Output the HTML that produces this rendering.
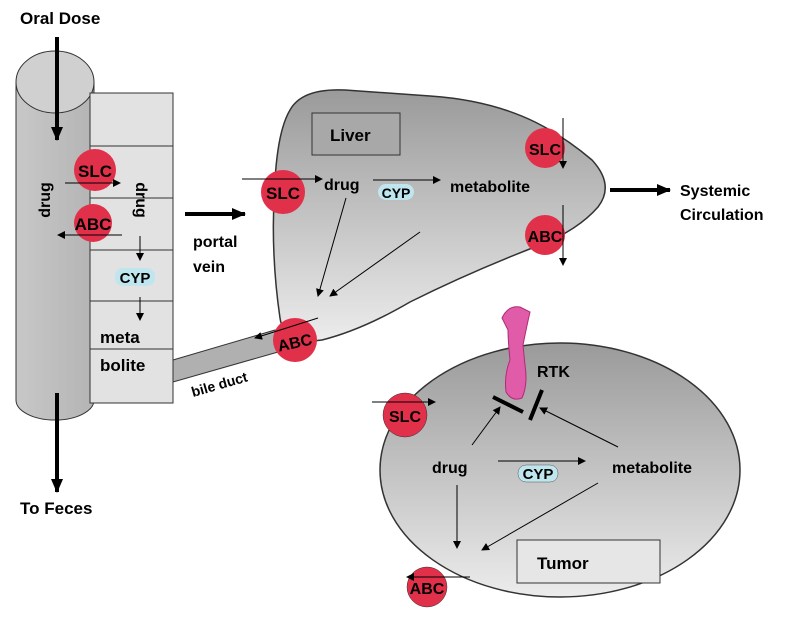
<!DOCTYPE html>
<html><head><style>body{margin:0;background:#fff}svg{display:block}text{font-family:"Liberation Sans",sans-serif;font-weight:bold}</style></head><body>
<svg width="800" height="629" viewBox="0 0 800 629" xmlns="http://www.w3.org/2000/svg">
<defs>
<linearGradient id="g" x1="0" y1="0" x2="0" y2="1"><stop offset="0" stop-color="#9a9a9a"/><stop offset="1" stop-color="#ececec"/></linearGradient>
<linearGradient id="c" x1="0" y1="0" x2="1" y2="0"><stop offset="0" stop-color="#c8c8c8"/><stop offset="1" stop-color="#b4b4b4"/></linearGradient>
<marker id="a" markerWidth="8" markerHeight="8" refX="7" refY="4" orient="auto" markerUnits="userSpaceOnUse"><path d="M0,0L8,4L0,8z" fill="#000"/></marker>
<marker id="A" markerWidth="14" markerHeight="12" refX="13" refY="6" orient="auto" markerUnits="userSpaceOnUse"><path d="M0,0L14,6L0,12z" fill="#000"/></marker>
</defs>
<text x="20" y="24" font-size="17">Oral Dose</text>
<!-- cylinder -->
<path d="M16,82 L16,400 A39,20 0 0 0 94,400 L94,82 Z" fill="url(#c)" stroke="#333"/>
<ellipse cx="55" cy="82" rx="39" ry="31" fill="#d0d0d0" stroke="#333"/>
<!-- cells -->
<rect x="90" y="93" width="83" height="310" fill="#e2e2e2" stroke="#333"/>
<g stroke="#333"><line x1="90" y1="146" x2="173" y2="146"/><line x1="90" y1="198" x2="173" y2="198"/><line x1="90" y1="250" x2="173" y2="250"/><line x1="90" y1="301" x2="173" y2="301"/><line x1="90" y1="349" x2="173" y2="349"/></g>
<line x1="57" y1="37" x2="57" y2="140" stroke="#000" stroke-width="4" marker-end="url(#A)"/>
<line x1="57" y1="393" x2="57" y2="492" stroke="#000" stroke-width="4" marker-end="url(#A)"/>
<text x="20" y="514" font-size="17">To Feces</text>
<text transform="translate(50,200) rotate(-90)" font-size="16" text-anchor="middle">drug</text>
<text transform="translate(136,200) rotate(90)" font-size="16" text-anchor="middle">drug</text>
<circle cx="95" cy="170" r="21" fill="#e0304a"/>
<text x="95" y="177" font-size="17" text-anchor="middle" font-weight="normal">SLC</text>
<line x1="65" y1="183" x2="120" y2="183" stroke="#000" marker-end="url(#a)"/>
<circle cx="93" cy="223" r="19" fill="#e0304a"/>
<text x="93" y="230" font-size="17" text-anchor="middle" font-weight="normal">ABC</text>
<line x1="122" y1="235" x2="58" y2="235" stroke="#000" marker-end="url(#a)"/>
<line x1="140" y1="236" x2="140" y2="260" stroke="#000" marker-end="url(#a)"/>
<rect x="115" y="268" width="40" height="18" rx="8" fill="#bfe6ee"/>
<text x="135" y="283" font-size="15" text-anchor="middle" font-weight="normal">CYP</text>
<line x1="140" y1="297" x2="140" y2="320" stroke="#000" marker-end="url(#a)"/>
<text x="100" y="343" font-size="17">meta</text>
<text x="100" y="371" font-size="17">bolite</text>
<!-- portal -->
<line x1="185" y1="214" x2="245" y2="214" stroke="#000" stroke-width="4" marker-end="url(#A)"/>
<text x="193" y="247" font-size="16">portal</text>
<text x="193" y="272" font-size="16">vein</text>
<!-- bile duct -->
<path d="M173,360 L275,330 L285,350 L173,382 Z" fill="#b0b0b0" stroke="#333"/>
<text transform="translate(193,397) rotate(-16)" font-size="14" font-weight="normal">bile duct</text>
<!-- liver -->
<path d="M290,110 Q302,88 345,90 L430,96 Q490,100 535,122 Q565,137 592,160 Q615,185 598,207 Q578,230 540,245 Q470,272 410,302 Q362,330 322,340 Q284,346 280,318 Q270,250 275,180 Q278,130 290,110 Z" fill="url(#g)" stroke="#333" stroke-width="1.5"/>
<rect x="312" y="113" width="88" height="42" fill="#a8a8a8" stroke="#333"/>
<text x="330" y="141" font-size="17">Liver</text>
<circle cx="283" cy="192" r="22" fill="#e0304a"/>
<text x="283" y="199" font-size="17" text-anchor="middle" font-weight="normal">SLC</text>
<line x1="242" y1="179" x2="322" y2="179" stroke="#000" marker-end="url(#a)"/>
<text x="324" y="190" font-size="16">drug</text>
<line x1="373" y1="180" x2="440" y2="180" stroke="#000" marker-end="url(#a)"/>
<rect x="378" y="184" width="36" height="16" rx="8" fill="#bfe6ee"/>
<text x="396" y="198" font-size="14" text-anchor="middle" font-weight="normal">CYP</text>
<text x="450" y="192" font-size="16">metabolite</text>
<line x1="346" y1="198" x2="318" y2="296" stroke="#000" marker-end="url(#a)"/>
<line x1="420" y1="232" x2="330" y2="296" stroke="#000" marker-end="url(#a)"/>
<circle cx="545" cy="148" r="20" fill="#e0304a"/>
<text x="545" y="155" font-size="16" text-anchor="middle" font-weight="normal">SLC</text>
<line x1="563" y1="118" x2="563" y2="168" stroke="#000" marker-end="url(#a)"/>
<circle cx="545" cy="235" r="20" fill="#e0304a"/>
<text x="545" y="242" font-size="16" text-anchor="middle" font-weight="normal">ABC</text>
<line x1="563" y1="205" x2="563" y2="265" stroke="#000" marker-end="url(#a)"/>
<line x1="610" y1="190" x2="670" y2="190" stroke="#000" stroke-width="4" marker-end="url(#A)"/>
<text x="680" y="196" font-size="16">Systemic</text>
<text x="680" y="220" font-size="16">Circulation</text>
<circle cx="295" cy="340" r="22" fill="#e0304a"/>
<text transform="translate(296,348) rotate(-12)" font-size="16" text-anchor="middle" font-weight="normal">ABC</text>
<line x1="318" y1="318" x2="255" y2="338" stroke="#000" marker-end="url(#a)"/>
<!-- tumor -->
<ellipse cx="560" cy="470" rx="180" ry="127" fill="url(#g)" stroke="#333" stroke-width="1.5"/>
<rect x="517" y="540" width="143" height="43" fill="#e6e6e6" stroke="#333"/>
<text x="537" y="569" font-size="17">Tumor</text>
<path d="M502,318 Q508,305 520,307 L530,312 Q527,325 523,345 L525,365 Q528,385 522,398 Q512,402 506,392 Q504,375 510,360 Q508,340 508,330 Z" fill="#e05ca8" stroke="#b02a78"/>
<text x="537" y="377" font-size="16">RTK</text>
<circle cx="405" cy="415" r="22" fill="#e0304a" stroke="#333" stroke-width="0.5"/>
<text x="405" y="422" font-size="16" text-anchor="middle">SLC</text>
<line x1="372" y1="402" x2="435" y2="402" stroke="#000" marker-end="url(#a)"/>
<text x="432" y="473" font-size="16">drug</text>
<line x1="498" y1="461" x2="585" y2="461" stroke="#000" marker-end="url(#a)"/>
<rect x="518" y="465" width="40" height="17" rx="8" fill="#bfe6ee" stroke="#555" stroke-width="0.5"/>
<text x="538" y="479" font-size="15" text-anchor="middle" font-weight="normal">CYP</text>
<text x="612" y="473" font-size="16">metabolite</text>
<line x1="472" y1="445" x2="500" y2="407" stroke="#000" marker-end="url(#a)"/>
<line x1="618" y1="447" x2="540" y2="408" stroke="#000" marker-end="url(#a)"/>
<line x1="493" y1="397" x2="523" y2="412" stroke="#000" stroke-width="4"/>
<line x1="530" y1="420" x2="542" y2="390" stroke="#000" stroke-width="4"/>
<line x1="457" y1="485" x2="457" y2="548" stroke="#000" marker-end="url(#a)"/>
<line x1="598" y1="483" x2="482" y2="550" stroke="#000" marker-end="url(#a)"/>
<circle cx="427" cy="587" r="20" fill="#e0304a" stroke="#333" stroke-width="0.5"/>
<text x="427" y="594" font-size="16" text-anchor="middle">ABC</text>
<line x1="470" y1="577" x2="407" y2="577" stroke="#000" marker-end="url(#a)"/>
</svg>
</body></html>
